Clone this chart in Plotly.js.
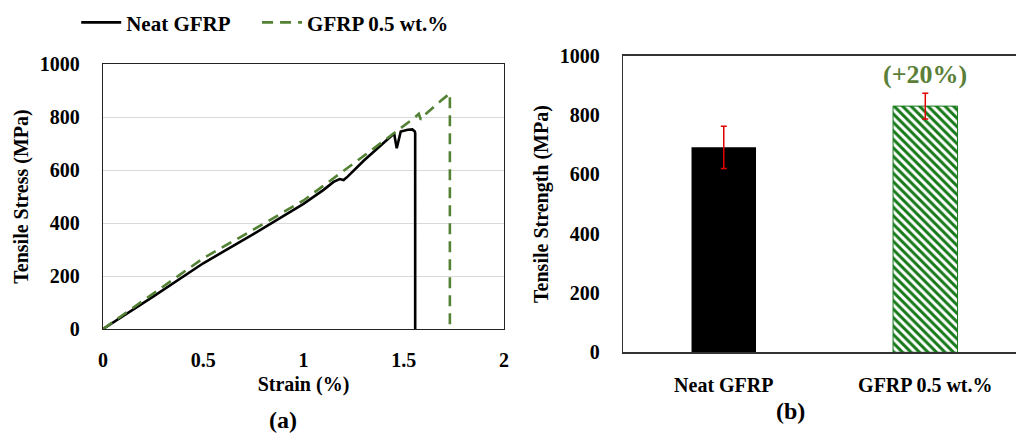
<!DOCTYPE html>
<html>
<head>
<meta charset="utf-8">
<script src="https://cdn.plot.ly/plotly-3.0.1.min.js"></script>
<style>html,body{margin:0;padding:0;background:#fff;}#chart{width:1016px;height:437px;}</style>
</head>
<body>
<div id="chart"></div>
<script>
// ---- Panel (a): stress-strain curves ----
const neatStrain = [0, 0.25, 0.5, 0.75, 1.0, 1.1, 1.15, 1.18, 1.2, 1.22, 1.3, 1.38, 1.452, 1.465, 1.485, 1.52, 1.543, 1.555, 1.557, 1.557];
const neatStress = [0, 122, 248, 358, 472, 525, 555, 566, 562, 575, 635, 690, 738, 682, 745, 752, 753, 745, 740, 0];
const gfrpStrain = [0, 0.25, 0.5, 0.75, 1.0, 1.3, 1.5, 1.55, 1.575, 1.585, 1.6, 1.65, 1.685, 1.73, 1.73];
const gfrpStress = [0, 132, 267, 375, 485, 653, 764, 795, 812, 790, 805, 840, 861, 889, 0];
const seriesNames = ["Neat GFRP", "GFRP 0.5 wt.%"];

// ---- Panel (b): tensile strength bars ----
const barCategories = ["Neat GFRP", "GFRP 0.5 wt.%"];
const barValues = [691, 830];
const barErrors = [71, 43];
const improvementLabel = "(+20%)";

const serif = "Liberation Serif, Times New Roman, serif";
const green = "#548235";
const barGreen = "#17791a";

const traces = [
  {x: neatStrain, y: neatStress, type: "scatter", mode: "lines", name: seriesNames[0],
   line: {color: "#000", width: 2.6}, xaxis: "x", yaxis: "y", legend: "legend"},
  {x: gfrpStrain, y: gfrpStress, type: "scatter", mode: "lines", name: seriesNames[1],
   line: {color: green, width: 2.6, dash: "11px,7px"}, xaxis: "x", yaxis: "y", legend: "legend2"},
  {x: [barCategories[0]], y: [barValues[0]], type: "bar", showlegend: false, width: 0.32,
   marker: {color: "#000"},
   error_y: {type: "data", array: [barErrors[0]], color: "#e00000", thickness: 1.5, width: 3},
   xaxis: "x2", yaxis: "y2"},
  {x: [barCategories[1]], y: [barValues[1]], type: "bar", showlegend: false, width: 0.32,
   marker: {color: "#fff", line: {color: barGreen, width: 1},
            pattern: {shape: "\\", fgcolor: barGreen, bgcolor: "#fff", size: 6, solidity: 0.5}},
   error_y: {type: "data", array: [barErrors[1]], color: "#e00000", thickness: 1.5, width: 3},
   xaxis: "x2", yaxis: "y2"}
];

const tickFont = {family: serif, size: 20, color: "#000", weight: "bold"};
const titleFont = {family: serif, size: 20, color: "#000", weight: "bold"};
const legendFont = {family: serif, size: 21, color: "#000", weight: "bold"};

const layout = {
  width: 1016, height: 437,
  margin: {l: 0, r: 0, t: 0, b: 0},
  paper_bgcolor: "#fff", plot_bgcolor: "#fff",
  font: {family: serif, size: 20, color: "#000", weight: "bold"},
  barmode: "overlay",
  showlegend: true,
  legend: {orientation: "h", x: 0.075, y: 0.995, xanchor: "left", yanchor: "top",
           font: legendFont, itemwidth: 40, bgcolor: "rgba(0,0,0,0)"},
  legend2: {orientation: "h", x: 0.253, y: 0.995, xanchor: "left", yanchor: "top",
           font: legendFont, itemwidth: 40, bgcolor: "rgba(0,0,0,0)"},
  xaxis: {domain: [103/1016, 504/1016], range: [0, 2], anchor: "y", tickvals: [0, 0.5, 1, 1.5, 2],
          ticktext: ["0", "0.5", "1", "1.5", "2"],
          showgrid: false, zeroline: false, showline: true, mirror: true, linecolor: "#222", linewidth: 1.3,
          ticks: "", ticklabelstandoff: 13, tickfont: tickFont,
          title: {text: "Strain (%)", font: titleFont, standoff: 6}},
  yaxis: {domain: [(437-329)/437, (437-64)/437], range: [0, 1000], dtick: 200, anchor: "x",
          showgrid: true, gridcolor: "#d9d9d9", gridwidth: 1, zeroline: false,
          showline: true, mirror: true, linecolor: "#222", linewidth: 1.3,
          ticks: "", ticklabelstandoff: 18, tickfont: tickFont,
          title: {text: "Tensile Stress (MPa)", font: titleFont, standoff: 5}},
  xaxis2: {domain: [623/1016, 1], range: [-0.5, 1.45], type: "category", anchor: "y2",
           showgrid: false, zeroline: false, showline: true, mirror: true, linecolor: "#333", linewidth: 1.3,
           ticks: "", ticklabelstandoff: 14, tickfont: tickFont},
  yaxis2: {domain: [(437-352.3)/437, (437-55.7)/437], range: [0, 1000], dtick: 200, anchor: "x2",
           showgrid: false, zeroline: false, showline: true, mirror: false, linecolor: "#333", linewidth: 1.3,
           ticks: "", ticklabelstandoff: 18, tickfont: tickFont,
           title: {text: "Tensile Strength (MPa)", font: titleFont, standoff: 5}},
  annotations: [
    {xref: "x2", yref: "y2", x: barCategories[1], y: 935, yanchor: "middle",
     text: improvementLabel, showarrow: false,
     font: {family: serif, size: 26, color: "#5b7f38", weight: "bold"}},
    {xref: "paper", yref: "paper", x: 267/1016, y: 1 - 420/437, yanchor: "middle",
     text: "(a)", showarrow: false, font: {family: serif, size: 24, color: "#000", weight: "bold"}},
    {xref: "paper", yref: "paper", x: 807/1016, y: 1 - 411/437, yanchor: "middle",
     text: "(b)", showarrow: false, font: {family: serif, size: 24, color: "#000", weight: "bold"}}
  ]
};

Plotly.newPlot("chart", traces, layout, {displayModeBar: false, staticPlot: true});
</script>
</body>
</html>
